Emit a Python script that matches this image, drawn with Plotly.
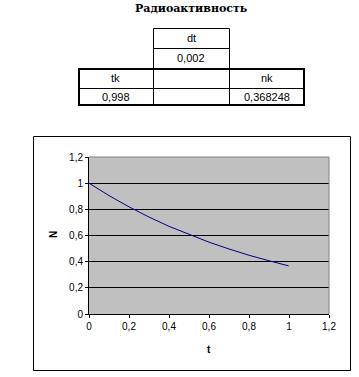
import plotly.graph_objects as go

# ---- data ----
title_text = "Радиоактивность"
t_values = [0.0, 0.1, 0.2, 0.3, 0.4, 0.5, 0.6, 0.7, 0.8, 0.9, 0.998]
n_values = [1.0, 0.905, 0.819, 0.741, 0.670, 0.607, 0.549, 0.497, 0.449, 0.407, 0.368]
x_ticks = [0, 0.2, 0.4, 0.6, 0.8, 1, 1.2]
y_ticks = [0, 0.2, 0.4, 0.6, 0.8, 1, 1.2]
table_headers = ["dt", "tk", "nk"]
table_values = ["0,002", "0,998", "0,368248"]

W, H = 359, 377
PL, PR, PT, PB = 89, 329, 157, 314  # plot area in pixels


def px(x):
    return (x - PL) / (PR - PL)


def py(y):
    return (PB - y) / (PB - PT)


fig = go.Figure()
fig.add_trace(go.Scatter(x=t_values, y=n_values, mode="lines",
                         line=dict(color="#000080", width=1), hoverinfo="skip"))

font = dict(family="Liberation Sans, Arial, sans-serif", size=10, color="black")

shapes = []
# outer chart border
shapes.append(dict(type="rect", xref="paper", yref="paper",
                   x0=px(33.5), x1=px(350.5), y0=py(370.5), y1=py(136.5),
                   line=dict(color="black", width=1), layer="below"))
# plot area top / right border (gray)
shapes.append(dict(type="line", xref="paper", yref="paper", x0=0, x1=1, y0=1, y1=1,
                   line=dict(color="#808080", width=1), layer="above"))
shapes.append(dict(type="line", xref="paper", yref="paper", x0=1, x1=1, y0=0, y1=1,
                   line=dict(color="#808080", width=1), layer="above"))


def rect(x0, y0, x1, y1, w=1):
    shapes.append(dict(type="rect", xref="paper", yref="paper",
                       x0=px(x0), x1=px(x1), y0=py(y1), y1=py(y0),
                       line=dict(color="black", width=w)))


# small top table
rect(153.5, 28.5, 229.5, 48.5)
rect(153.5, 48.5, 229.5, 68.5)
# lower table cells
for x0, x1 in [(78.5, 153.5), (153.5, 229.5), (229.5, 304.5)]:
    rect(x0, 68.5, x1, 88.5)
    rect(x0, 88.5, x1, 105)
# thick outer border of lower table
rect(79, 69, 304, 105, w=2)

ann = []
ann.append(dict(text="<b>" + title_text + "</b>", x=px(191), y=py(8), xref="paper", yref="paper",
                xanchor="center", yanchor="middle",
                showarrow=False, font=dict(family="DejaVu Serif, serif", size=11, color="black")))
cell_font = dict(family="Liberation Sans, Arial, sans-serif", size=11, color="black")
for txt, (cx, cy) in zip(table_headers, [(191, 38), (115.5, 78), (266.5, 78)]):
    ann.append(dict(text=txt, x=px(cx), y=py(cy), xref="paper", yref="paper",
                    xanchor="center", yanchor="middle", showarrow=False, font=cell_font))
for txt, (cx, cy) in zip(table_values, [(191, 58), (115.5, 97), (266.5, 97)]):
    ann.append(dict(text=txt, x=px(cx), y=py(cy), xref="paper", yref="paper",
                    xanchor="center", yanchor="middle", showarrow=False, font=cell_font))
# axis titles
ann.append(dict(text="<b>t</b>", x=px(209), y=py(349), xref="paper", yref="paper",
                xanchor="center", yanchor="middle", showarrow=False, font=font))
ann.append(dict(text="<b>N</b>", x=px(53), y=py(235), xref="paper", yref="paper",
                xanchor="center", yanchor="middle",
                showarrow=False, textangle=-90, font=font))

fig.update_layout(
    width=W, height=H,
    margin=dict(l=PL, r=W - PR, t=PT, b=H - PB, pad=0),
    paper_bgcolor="white", plot_bgcolor="#C0C0C0",
    separators=", ",
    showlegend=False,
    shapes=shapes, annotations=ann,
    font=font,
)
fig.update_xaxes(range=[0, 1.2], tickvals=x_ticks, showgrid=False, zeroline=False,
                 showline=True, linecolor="black", linewidth=1,
                 ticks="outside", ticklen=3, tickcolor="black", tickfont=font,
                 fixedrange=True)
fig.update_yaxes(range=[0, 1.2], tickvals=y_ticks, showgrid=True, gridcolor="black", gridwidth=1,
                 zeroline=False, showline=True, linecolor="black", linewidth=1,
                 ticks="outside", ticklen=3, tickcolor="black", tickfont=font,
                 fixedrange=True)

fig.write_html("out.html", config={"displayModeBar": False},
               post_script="document.body.style.margin='0';document.body.style.overflow='hidden';")
